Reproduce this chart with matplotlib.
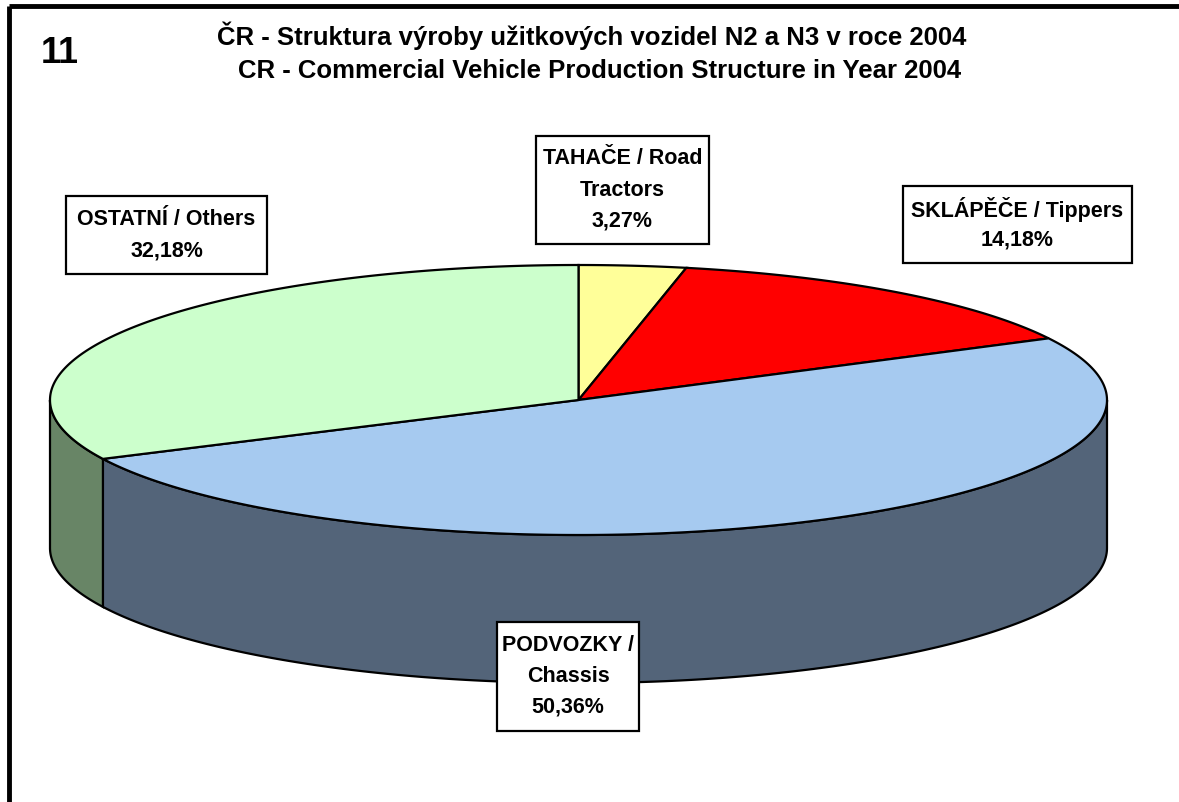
import numpy as np
import matplotlib
matplotlib.use("Agg")
import matplotlib.pyplot as plt
from matplotlib.patches import Polygon, Rectangle

plt.rcParams['font.family'] = ['Liberation Sans', 'DejaVu Sans']

# ---- data ----
categories = ["TAHAČE / Road Tractors", "SKLÁPĚČE / Tippers", "PODVOZKY / Chassis", "OSTATNÍ / Others"]
shares = [3.27, 14.18, 50.36, 32.18]
label_lines = [["TAHAČE / Road", "Tractors"], ["SKLÁPĚČE / Tippers"], ["PODVOZKY /", "Chassis"], ["OSTATNÍ / Others"]]
top_colors = ["#FFFF99", "#FF0000", "#A6CAF0", "#CCFFCC"]
side_colors = ["#808050", "#800000", "#536479", "#688566"]
title_lines = ["ČR - Struktura výroby užitkových vozidel N2 a N3 v roce 2004",
               "CR - Commercial Vehicle Production Structure in Year 2004"]
chart_number = "11"

# ---- layout (pixels) ----
W, H = 1179, 802
fig = plt.figure(figsize=(W / 100, H / 100), dpi=100)
ax = fig.add_axes([0, 0, 1, 1])
ax.set_xlim(0, W)
ax.set_ylim(H, 0)
ax.axis('off')

cx, cy, rx, ry, depth = 578.5, 400, 528.5, 135, 148

def pt(theta_deg, dy=0.0):
    t = np.radians(theta_deg)
    return cx + rx * np.sin(t), cy - ry * np.cos(t) + dy

vals = np.array(shares, dtype=float)
cum = np.concatenate([[0], np.cumsum(vals) / vals.sum() * 360.0])

# side walls (front half: 90..270 degrees)
for i in range(len(vals)):
    a, b = cum[i], cum[i + 1]
    lo, hi = max(a, 90.0), min(b, 270.0)
    if hi > lo:
        th = np.linspace(lo, hi, 200)
        topx, topy = pt(th)
        botx, boty = pt(th[::-1], depth)
        xs = np.concatenate([topx, botx])
        ys = np.concatenate([topy, boty])
        ax.add_patch(Polygon(np.column_stack([xs, ys]), closed=True,
                             facecolor=side_colors[i], edgecolor='black', lw=1.6, zorder=2))

# top wedges
for i in range(len(vals)):
    th = np.linspace(cum[i], cum[i + 1], 300)
    ex, ey = pt(th)
    xs = np.concatenate([[cx], ex])
    ys = np.concatenate([[cy], ey])
    ax.add_patch(Polygon(np.column_stack([xs, ys]), closed=True,
                         facecolor=top_colors[i], edgecolor='black', lw=1.6, zorder=3))

# label boxes (x0, y0, x1, y1) in pixels
boxes = [(536, 136, 709, 244), (903, 186, 1132, 263), (497, 622, 639, 731), (66, 196, 267, 274)]
line_gap = 31
for i in range(len(vals)):
    x0, y0, x1, y1 = boxes[i]
    ax.add_patch(Rectangle((x0, y0), x1 - x0, y1 - y0, facecolor='white',
                           edgecolor='black', lw=1.6, zorder=5))
    lines = label_lines[i] + [f"{shares[i]:.2f}%".replace('.', ',')]
    n = len(lines)
    yc = (y0 + y1) / 2
    for k, s in enumerate(lines):
        yy = yc + (k - (n - 1) / 2) * line_gap
        ax.text((x0 + x1) / 2, yy, s, ha='center', va='center', fontsize=15.5,
                fontweight='bold', zorder=6)

# titles
ax.text(592, 45, title_lines[0], ha='center', va='baseline', fontsize=18.5, fontweight='bold')
ax.text(600, 78, title_lines[1], ha='center', va='baseline', fontsize=18.5, fontweight='bold')
ax.text(60, 63, chart_number, ha='center', va='baseline', fontsize=26, fontweight='bold')

# frame (top and left only, as cropped)
ax.plot([9, W], [6, 6], color='black', lw=3.5, solid_capstyle='butt')
ax.plot([9, 9], [6, H], color='black', lw=3.5, solid_capstyle='butt')

fig.savefig("out.png", dpi=100)
